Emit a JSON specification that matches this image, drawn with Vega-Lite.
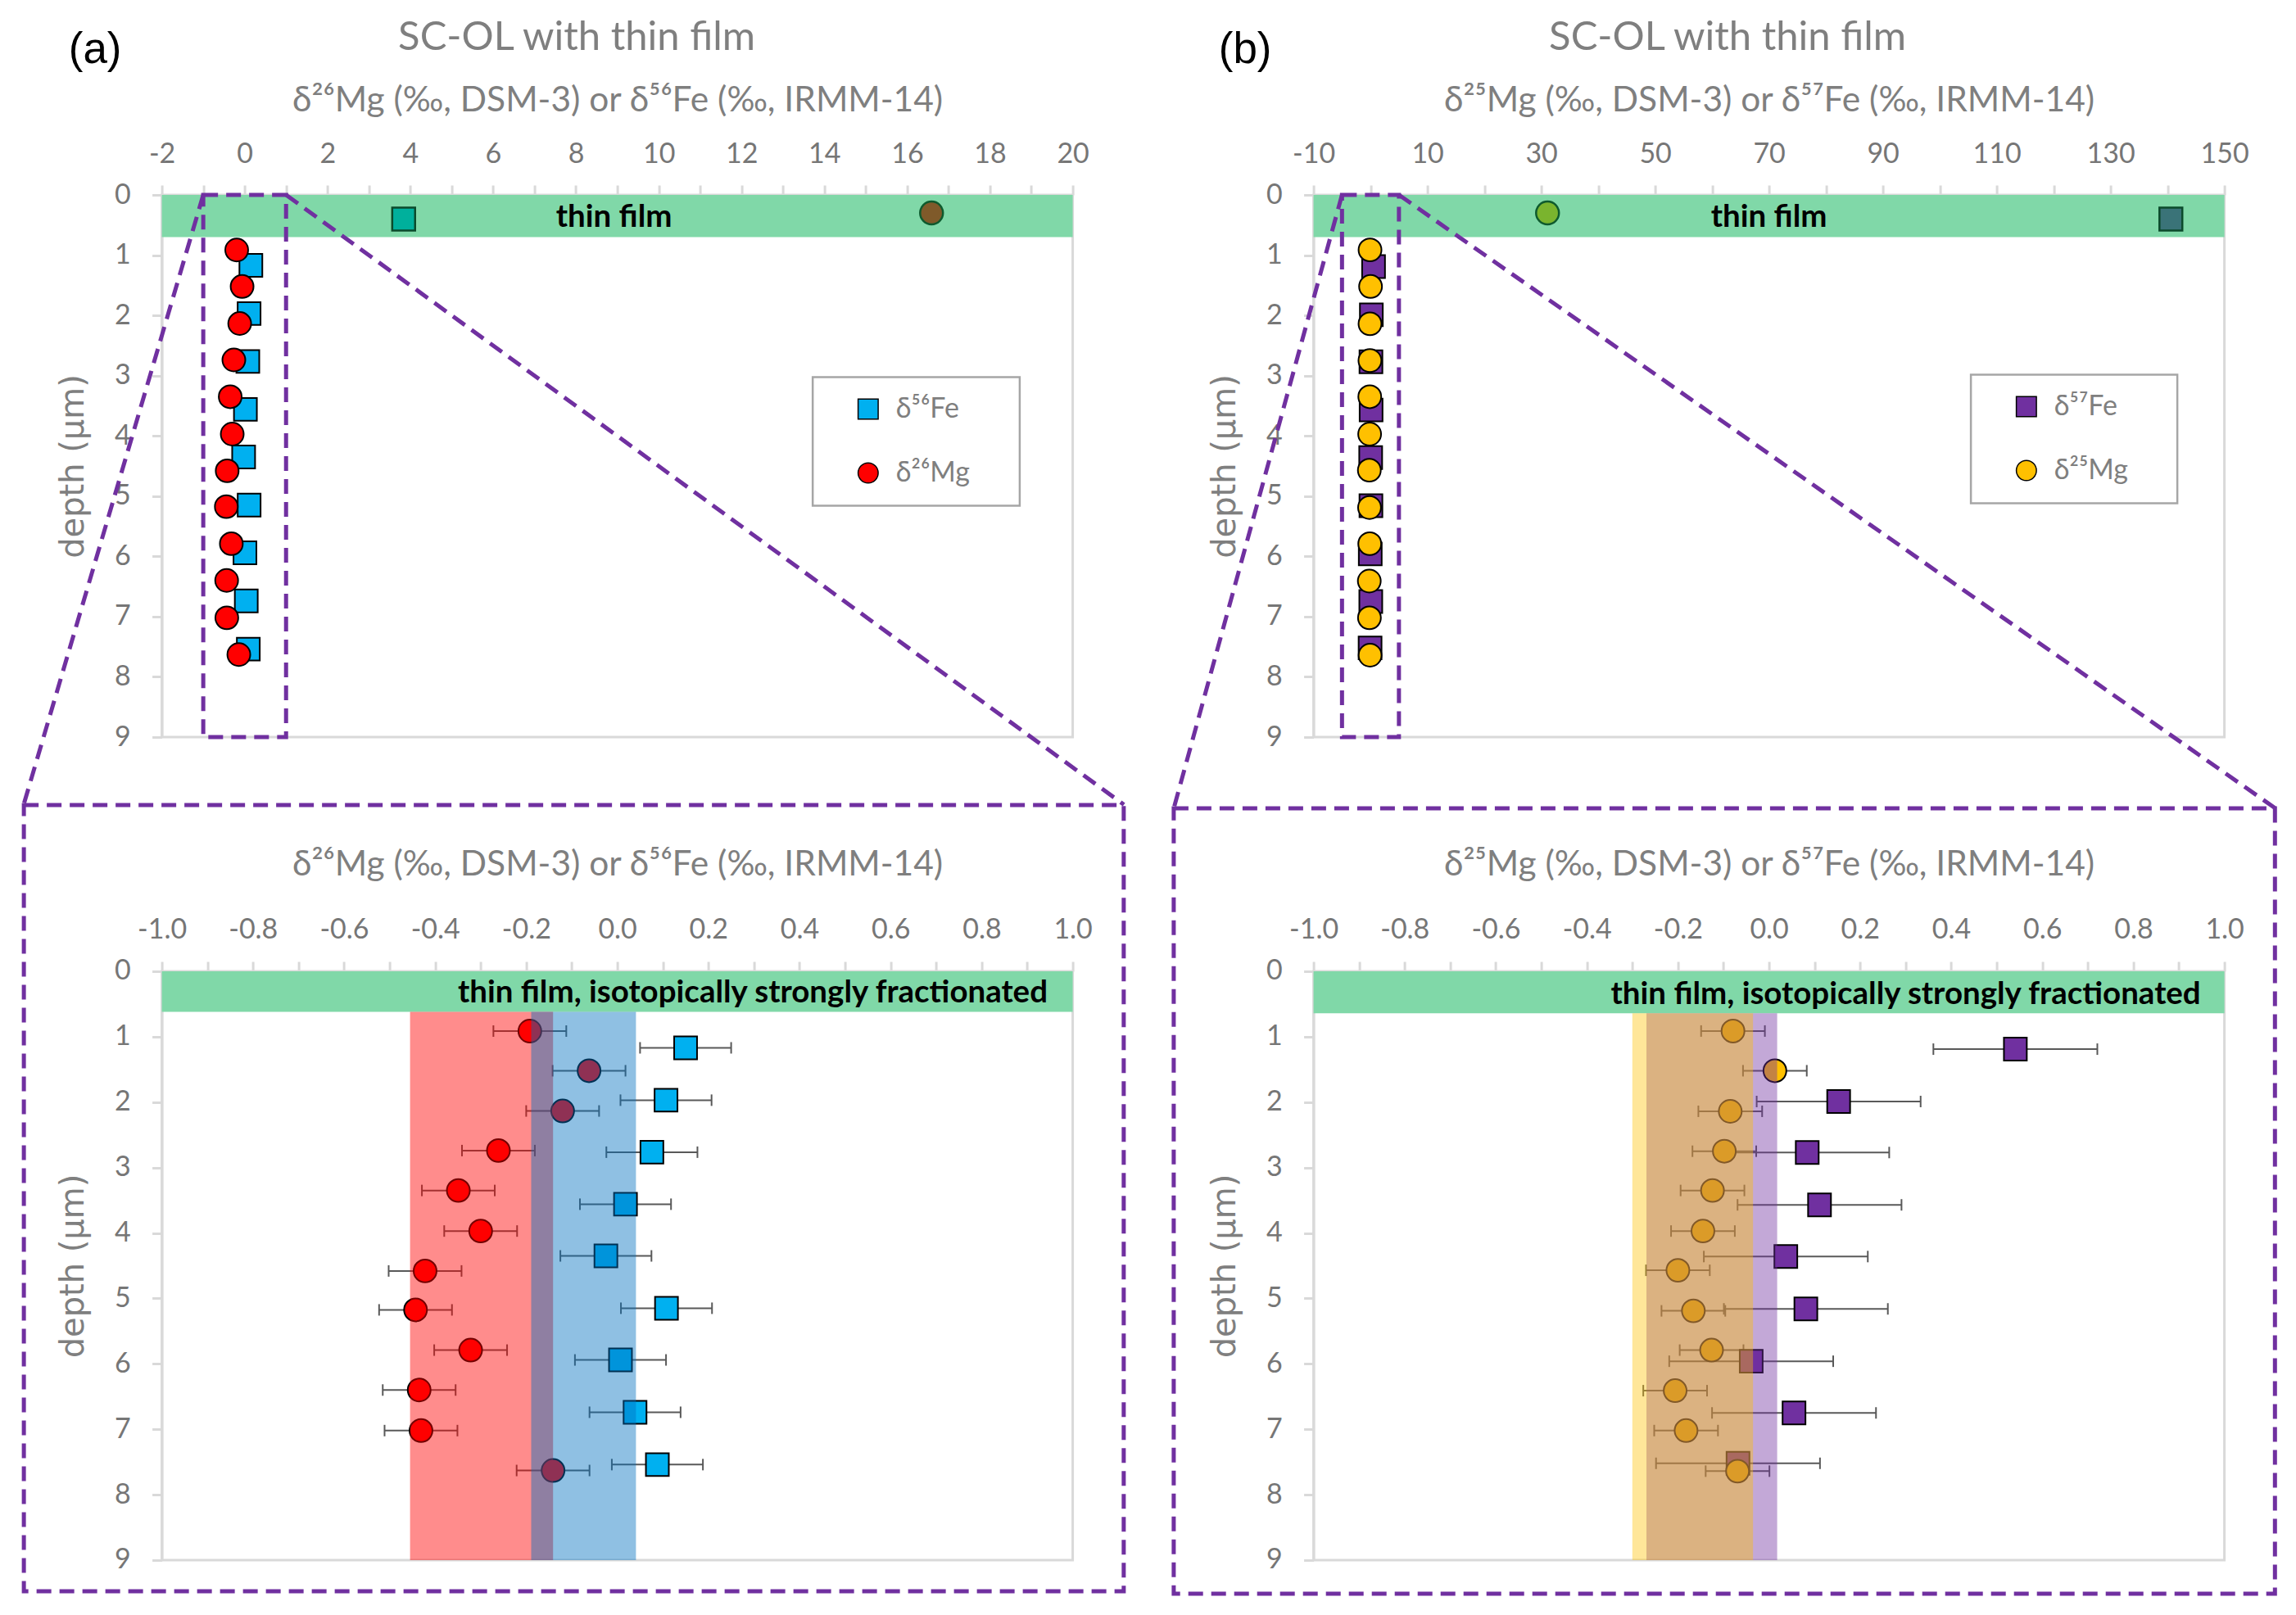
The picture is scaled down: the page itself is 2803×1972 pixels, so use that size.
{
"$schema":"https://vega.github.io/schema/vega-lite/v6.json",
"background":"white",
"padding":{"left":24.6,"top":20,"right":10,"bottom":10},
"columns":2,
"spacing":{"row":286,"column":294},
"bounds":"flush",
"resolve":{"scale":{"fill":"independent","shape":"independent"},"legend":{"fill":"independent","shape":"independent"}},
"datasets":{
"a":[
{"series":"δ⁵⁶Fe","depth":1.17,"v":0.150,"lo":0.050,"hi":0.250},
{"series":"δ⁵⁶Fe","depth":1.97,"v":0.107,"lo":0.007,"hi":0.207},
{"series":"δ⁵⁶Fe","depth":2.765,"v":0.076,"lo":-0.024,"hi":0.176},
{"series":"δ⁵⁶Fe","depth":3.56,"v":0.018,"lo":-0.082,"hi":0.118},
{"series":"δ⁵⁶Fe","depth":4.35,"v":-0.025,"lo":-0.125,"hi":0.075},
{"series":"δ⁵⁶Fe","depth":5.15,"v":0.108,"lo":0.008,"hi":0.208},
{"series":"δ⁵⁶Fe","depth":5.94,"v":0.007,"lo":-0.093,"hi":0.107},
{"series":"δ⁵⁶Fe","depth":6.74,"v":0.039,"lo":-0.061,"hi":0.139},
{"series":"δ⁵⁶Fe","depth":7.54,"v":0.088,"lo":-0.012,"hi":0.188},
{"series":"δ²⁶Mg","depth":0.914,"v":-0.192,"lo":-0.272,"hi":-0.112},
{"series":"δ²⁶Mg","depth":1.52,"v":-0.062,"lo":-0.142,"hi":0.018},
{"series":"δ²⁶Mg","depth":2.135,"v":-0.120,"lo":-0.200,"hi":-0.040},
{"series":"δ²⁶Mg","depth":2.74,"v":-0.261,"lo":-0.341,"hi":-0.181},
{"series":"δ²⁶Mg","depth":3.35,"v":-0.349,"lo":-0.429,"hi":-0.269},
{"series":"δ²⁶Mg","depth":3.97,"v":-0.300,"lo":-0.380,"hi":-0.220},
{"series":"δ²⁶Mg","depth":4.58,"v":-0.422,"lo":-0.502,"hi":-0.342},
{"series":"δ²⁶Mg","depth":5.175,"v":-0.443,"lo":-0.523,"hi":-0.363},
{"series":"δ²⁶Mg","depth":5.79,"v":-0.322,"lo":-0.402,"hi":-0.242},
{"series":"δ²⁶Mg","depth":6.40,"v":-0.435,"lo":-0.515,"hi":-0.355},
{"series":"δ²⁶Mg","depth":7.02,"v":-0.431,"lo":-0.511,"hi":-0.351},
{"series":"δ²⁶Mg","depth":7.63,"v":-0.141,"lo":-0.221,"hi":-0.061}
],
"b":[
{"series":"δ⁵⁷Fe","depth":1.19,"v":0.541,"lo":0.361,"hi":0.721},
{"series":"δ⁵⁷Fe","depth":1.99,"v":0.153,"lo":-0.027,"hi":0.333},
{"series":"δ⁵⁷Fe","depth":2.77,"v":0.084,"lo":-0.096,"hi":0.264},
{"series":"δ⁵⁷Fe","depth":3.57,"v":0.111,"lo":-0.069,"hi":0.291},
{"series":"δ⁵⁷Fe","depth":4.36,"v":0.037,"lo":-0.143,"hi":0.217},
{"series":"δ⁵⁷Fe","depth":5.16,"v":0.081,"lo":-0.099,"hi":0.261},
{"series":"δ⁵⁷Fe","depth":5.96,"v":-0.039,"lo":-0.219,"hi":0.141},
{"series":"δ⁵⁷Fe","depth":6.75,"v":0.055,"lo":-0.125,"hi":0.235},
{"series":"δ⁵⁷Fe","depth":7.52,"v":-0.068,"lo":-0.248,"hi":0.112},
{"series":"δ²⁵Mg","depth":0.913,"v":-0.079,"lo":-0.149,"hi":-0.009},
{"series":"δ²⁵Mg","depth":1.52,"v":0.013,"lo":-0.057,"hi":0.083},
{"series":"δ²⁵Mg","depth":2.14,"v":-0.085,"lo":-0.155,"hi":-0.015},
{"series":"δ²⁵Mg","depth":2.75,"v":-0.098,"lo":-0.168,"hi":-0.028},
{"series":"δ²⁵Mg","depth":3.35,"v":-0.124,"lo":-0.194,"hi":-0.054},
{"series":"δ²⁵Mg","depth":3.97,"v":-0.145,"lo":-0.215,"hi":-0.075},
{"series":"δ²⁵Mg","depth":4.57,"v":-0.200,"lo":-0.270,"hi":-0.130},
{"series":"δ²⁵Mg","depth":5.19,"v":-0.166,"lo":-0.236,"hi":-0.096},
{"series":"δ²⁵Mg","depth":5.79,"v":-0.126,"lo":-0.196,"hi":-0.056},
{"series":"δ²⁵Mg","depth":6.41,"v":-0.206,"lo":-0.276,"hi":-0.136},
{"series":"δ²⁵Mg","depth":7.02,"v":-0.182,"lo":-0.252,"hi":-0.112},
{"series":"δ²⁵Mg","depth":7.64,"v":-0.069,"lo":-0.139,"hi":0.001}
]
},
"concat":[
{
"width":1112,"height":662,
"layer":[
{"data":{"values":[{}]},"mark":{"type":"rect","color":"#80D8A8"},
 "encoding":{"x":{"datum":-2,"type":"quantitative","axis":{"title":"δ²⁶Mg (‰, DSM-3) or δ⁵⁶Fe (‰, IRMM-14)"}},"x2":{"datum":20},"y":{"datum":0,"type":"quantitative","axis":{"title":"depth (µm)"}},"y2":{"datum":0.7}}},
{"data":{"values":[{}]},"mark":{"type":"rect","fill":"white","stroke":"#A6A6A6","strokeWidth":2.5},
 "encoding":{"x":{"datum":13.72,"type":"quantitative","axis":{"title":"δ²⁶Mg (‰, DSM-3) or δ⁵⁶Fe (‰, IRMM-14)"}},"x2":{"datum":18.72},"y":{"datum":3.025,"type":"quantitative","axis":{"title":"depth (µm)"}},"y2":{"datum":5.159}}},
{"data":{"name":"a"},"mark":{"type":"point","filled":true,"size":780,"stroke":"black","strokeWidth":2,"opacity":1},
 "encoding":{
  "x":{"field":"v","type":"quantitative","scale":{"domain":[-2,20],"nice":false,"zero":false},"axis":{"orient":"top","title":"δ²⁶Mg (‰, DSM-3) or δ⁵⁶Fe (‰, IRMM-14)","titlePadding":27,"values":[-2,-1,0,1,2,3,4,5,6,7,8,9,10,11,12,13,14,15,16,17,18,19,20],"labelExpr":"datum.value % 2 === 0 ? replace(format(datum.value, 'd'), '\u2212', '-') : ''"}},
  "y":{"field":"depth","type":"quantitative","scale":{"domain":[0,9],"reverse":true,"nice":false,"zero":false},"axis":{"title":"depth (µm)","format":"d","values":[0,1,2,3,4,5,6,7,8,9]}},
  "fill":{"field":"series","type":"nominal","scale":{"domain":["δ⁵⁶Fe","δ²⁶Mg"],"range":["#00B0F0","#FF0000"]},"legend":{"orient":"none","legendX":794.5,"legendY":222.5,"title":null}},
  "shape":{"field":"series","type":"nominal","scale":{"domain":["δ⁵⁶Fe","δ²⁶Mg"],"range":["square","circle"]},"legend":{"orient":"none","legendX":794.5,"legendY":222.5,"title":null}}}},
{"data":{"values":[{"v":3.84,"depth":0.40}]},"mark":{"type":"point","shape":"square","filled":true,"fill":"#00B09C","stroke":"#0B4A2B","strokeWidth":2.5,"size":780,"opacity":1},
 "encoding":{"x":{"field":"v","type":"quantitative"},"y":{"field":"depth","type":"quantitative"}}},
{"data":{"values":[{"v":16.59,"depth":0.30}]},"mark":{"type":"point","shape":"circle","filled":true,"fill":"#7F5A2A","stroke":"#0E5A2E","strokeWidth":2.5,"size":780,"opacity":1},
 "encoding":{"x":{"field":"v","type":"quantitative"},"y":{"field":"depth","type":"quantitative"}}},
{"data":{"values":[{}]},"mark":{"type":"text","text":"thin film","font":"Lato","fontWeight":"bold","fontSize":38.5,"color":"#000000","align":"center","baseline":"middle"},
 "encoding":{"x":{"datum":8.92,"type":"quantitative","axis":{"title":"δ²⁶Mg (‰, DSM-3) or δ⁵⁶Fe (‰, IRMM-14)"}},"y":{"datum":0.37,"type":"quantitative","axis":{"title":"depth (µm)"}}}},
{"data":{"values":[{}]},"mark":{"type":"text","text":"SC-OL with thin film","font":"Lato","fontSize":49,"color":"#7F7F7F","align":"center","baseline":"middle","clip":false},
 "encoding":{"x":{"datum":8.02,"type":"quantitative","axis":{"title":"δ²⁶Mg (‰, DSM-3) or δ⁵⁶Fe (‰, IRMM-14)"}},"y":{"datum":-2.617,"type":"quantitative","axis":{"title":"depth (µm)"}}}},
{"data":{"values":[{}]},"mark":{"type":"text","text":"(a)","font":"Liberation Sans","fontSize":53,"color":"#000000","align":"center","baseline":"middle","clip":false},
 "encoding":{"x":{"datum":-3.612,"type":"quantitative","axis":{"title":"δ²⁶Mg (‰, DSM-3) or δ⁵⁶Fe (‰, IRMM-14)"}},"y":{"datum":-2.4,"type":"quantitative","axis":{"title":"depth (µm)"}}}},
{"data":{"values":[{}]},"mark":{"type":"rect","fillOpacity":0,"stroke":"#7030A0","strokeWidth":5,"strokeDash":[18,10],"clip":false},
 "encoding":{"x":{"datum":-1,"type":"quantitative","axis":{"title":"δ²⁶Mg (‰, DSM-3) or δ⁵⁶Fe (‰, IRMM-14)"}},"x2":{"datum":1},"y":{"datum":0,"type":"quantitative","axis":{"title":"depth (µm)"}},"y2":{"datum":9}}},
{"data":{"values":[{"x0":-1,"y0":0,"x1":-5.338,"y1":10.122},{"x0":1,"y0":0,"x1":21.237,"y1":10.122}]},"mark":{"type":"rule","color":"#7030A0","strokeWidth":5,"strokeDash":[18,10],"clip":false},
 "encoding":{"x":{"field":"x0","type":"quantitative"},"x2":{"field":"x1"},"y":{"field":"y0","type":"quantitative"},"y2":{"field":"y1"}}}
]
},
{
"width":1112,"height":662,
"layer":[
{"data":{"values":[{}]},"mark":{"type":"rect","color":"#80D8A8"},
 "encoding":{"x":{"datum":-10,"type":"quantitative","axis":{"title":"δ²⁵Mg (‰, DSM-3) or δ⁵⁷Fe (‰, IRMM-14)"}},"x2":{"datum":150},"y":{"datum":0,"type":"quantitative","axis":{"title":"depth (µm)"}},"y2":{"datum":0.7}}},
{"data":{"values":[{}]},"mark":{"type":"rect","fill":"white","stroke":"#A6A6A6","strokeWidth":2.5},
 "encoding":{"x":{"datum":105.47,"type":"quantitative","axis":{"title":"δ²⁵Mg (‰, DSM-3) or δ⁵⁷Fe (‰, IRMM-14)"}},"x2":{"datum":141.73},"y":{"datum":2.984,"type":"quantitative","axis":{"title":"depth (µm)"}},"y2":{"datum":5.118}}},
{"data":{"name":"b"},"mark":{"type":"point","filled":true,"size":780,"stroke":"black","strokeWidth":2,"opacity":1},
 "encoding":{
  "x":{"field":"v","type":"quantitative","scale":{"domain":[-10,150],"nice":false,"zero":false},"axis":{"orient":"top","title":"δ²⁵Mg (‰, DSM-3) or δ⁵⁷Fe (‰, IRMM-14)","titlePadding":27,"values":[-10,0,10,20,30,40,50,60,70,80,90,100,110,120,130,140,150],"labelExpr":"(datum.value + 10) % 20 === 0 ? replace(format(datum.value, 'd'), '\u2212', '-') : ''"}},
  "y":{"field":"depth","type":"quantitative","scale":{"domain":[0,9],"reverse":true,"nice":false,"zero":false},"axis":{"title":"depth (µm)","format":"d","values":[0,1,2,3,4,5,6,7,8,9]}},
  "fill":{"field":"series","type":"nominal","scale":{"domain":["δ⁵⁷Fe","δ²⁵Mg"],"range":["#7030A0","#FFC000"]},"legend":{"orient":"none","legendX":802.5,"legendY":219.5,"title":null}},
  "shape":{"field":"series","type":"nominal","scale":{"domain":["δ⁵⁷Fe","δ²⁵Mg"],"range":["square","circle"]},"legend":{"orient":"none","legendX":802.5,"legendY":219.5,"title":null}}}},
{"data":{"values":[{"v":31.1,"depth":0.30}]},"mark":{"type":"point","shape":"circle","filled":true,"fill":"#7AB42E","stroke":"#0E5A2E","strokeWidth":2.5,"size":780,"opacity":1},
 "encoding":{"x":{"field":"v","type":"quantitative"},"y":{"field":"depth","type":"quantitative"}}},
{"data":{"values":[{"v":140.6,"depth":0.40}]},"mark":{"type":"point","shape":"square","filled":true,"fill":"#3A7378","stroke":"#0B4A2B","strokeWidth":2.5,"size":780,"opacity":1},
 "encoding":{"x":{"field":"v","type":"quantitative"},"y":{"field":"depth","type":"quantitative"}}},
{"data":{"values":[{}]},"mark":{"type":"text","text":"thin film","font":"Lato","fontWeight":"bold","fontSize":38.5,"color":"#000000","align":"center","baseline":"middle"},
 "encoding":{"x":{"datum":70,"type":"quantitative","axis":{"title":"δ²⁵Mg (‰, DSM-3) or δ⁵⁷Fe (‰, IRMM-14)"}},"y":{"datum":0.37,"type":"quantitative","axis":{"title":"depth (µm)"}}}},
{"data":{"values":[{}]},"mark":{"type":"text","text":"SC-OL with thin film","font":"Lato","fontSize":49,"color":"#7F7F7F","align":"center","baseline":"middle","clip":false},
 "encoding":{"x":{"datum":62.73,"type":"quantitative","axis":{"title":"δ²⁵Mg (‰, DSM-3) or δ⁵⁷Fe (‰, IRMM-14)"}},"y":{"datum":-2.617,"type":"quantitative","axis":{"title":"depth (µm)"}}}},
{"data":{"values":[{}]},"mark":{"type":"text","text":"(b)","font":"Liberation Sans","fontSize":53,"color":"#000000","align":"center","baseline":"middle","clip":false},
 "encoding":{"x":{"datum":-22.01,"type":"quantitative","axis":{"title":"δ²⁵Mg (‰, DSM-3) or δ⁵⁷Fe (‰, IRMM-14)"}},"y":{"datum":-2.4,"type":"quantitative","axis":{"title":"depth (µm)"}}}},
{"data":{"values":[{}]},"mark":{"type":"rect","fillOpacity":0,"stroke":"#7030A0","strokeWidth":5,"strokeDash":[18,10],"clip":false},
 "encoding":{"x":{"datum":-5,"type":"quantitative","axis":{"title":"δ²⁵Mg (‰, DSM-3) or δ⁵⁷Fe (‰, IRMM-14)"}},"x2":{"datum":5},"y":{"datum":0,"type":"quantitative","axis":{"title":"depth (µm)"}},"y2":{"datum":9}}},
{"data":{"values":[{"x0":-5,"y0":0,"x1":-34.53,"y1":10.176},{"x0":5,"y0":0,"x1":158.85,"y1":10.176}]},"mark":{"type":"rule","color":"#7030A0","strokeWidth":5,"strokeDash":[18,10],"clip":false},
 "encoding":{"x":{"field":"x0","type":"quantitative"},"x2":{"field":"x1"},"y":{"field":"y0","type":"quantitative"},"y2":{"field":"y1"}}}
]
},
{
"width":1112,"height":719,
"layer":[
{"data":{"values":[{}]},"mark":{"type":"rect","color":"#80D8A8"},
 "encoding":{"x":{"datum":-1,"type":"quantitative","axis":{"title":"δ²⁶Mg (‰, DSM-3) or δ⁵⁶Fe (‰, IRMM-14)"}},"x2":{"datum":1},"y":{"datum":0,"type":"quantitative","axis":{"title":"depth (µm)"}},"y2":{"datum":0.62}}},
{"data":{"values":[{}]},"mark":{"type":"text","text":"thin film, isotopically strongly fractionated","font":"Lato","fontWeight":"bold","fontSize":38.5,"color":"#000000","align":"right","baseline":"middle"},
 "encoding":{"x":{"datum":0.945,"type":"quantitative","axis":{"title":"δ²⁶Mg (‰, DSM-3) or δ⁵⁶Fe (‰, IRMM-14)"}},"y":{"datum":0.33,"type":"quantitative","axis":{"title":"depth (µm)"}}}},
{"data":{"name":"a"},"transform":[{"filter":{"field":"series","equal":"δ⁵⁶Fe"}}],"mark":{"type":"rule","color":"#595959","strokeWidth":2},
 "encoding":{"x":{"field":"lo","type":"quantitative"},"x2":{"field":"hi"},"y":{"field":"depth","type":"quantitative"}}},
{"data":{"name":"a"},"transform":[{"filter":{"field":"series","equal":"δ⁵⁶Fe"}}],"mark":{"type":"tick","orient":"vertical","color":"#595959","size":14,"thickness":2,"opacity":1},
 "encoding":{"x":{"field":"lo","type":"quantitative"},"y":{"field":"depth","type":"quantitative"}}},
{"data":{"name":"a"},"transform":[{"filter":{"field":"series","equal":"δ⁵⁶Fe"}}],"mark":{"type":"tick","orient":"vertical","color":"#595959","size":14,"thickness":2,"opacity":1},
 "encoding":{"x":{"field":"hi","type":"quantitative"},"y":{"field":"depth","type":"quantitative"}}},
{"data":{"name":"a"},"transform":[{"filter":{"field":"series","equal":"δ²⁶Mg"}}],"mark":{"type":"rule","color":"#595959","strokeWidth":2},
 "encoding":{"x":{"field":"lo","type":"quantitative"},"x2":{"field":"hi"},"y":{"field":"depth","type":"quantitative"}}},
{"data":{"name":"a"},"transform":[{"filter":{"field":"series","equal":"δ²⁶Mg"}}],"mark":{"type":"tick","orient":"vertical","color":"#595959","size":14,"thickness":2,"opacity":1},
 "encoding":{"x":{"field":"lo","type":"quantitative"},"y":{"field":"depth","type":"quantitative"}}},
{"data":{"name":"a"},"transform":[{"filter":{"field":"series","equal":"δ²⁶Mg"}}],"mark":{"type":"tick","orient":"vertical","color":"#595959","size":14,"thickness":2,"opacity":1},
 "encoding":{"x":{"field":"hi","type":"quantitative"},"y":{"field":"depth","type":"quantitative"}}},
{"data":{"name":"a"},"transform":[{"filter":{"field":"series","equal":"δ⁵⁶Fe"}}],"mark":{"type":"point","shape":"square","filled":true,"fill":"#00B0F0","stroke":"black","strokeWidth":2,"size":780,"opacity":1},
 "encoding":{
  "x":{"field":"v","type":"quantitative","scale":{"domain":[-1,1],"nice":false,"zero":false},"axis":{"orient":"top","title":"δ²⁶Mg (‰, DSM-3) or δ⁵⁶Fe (‰, IRMM-14)","titlePadding":41.5,"values":[-1,-0.9,-0.8,-0.7,-0.6,-0.5,-0.4,-0.3,-0.2,-0.1,0,0.1,0.2,0.3,0.4,0.5,0.6,0.7,0.8,0.9,1],"labelExpr":"round(datum.value*10) % 2 === 0 ? replace(format(datum.value, '.1f'), '\u2212', '-') : ''"}},
  "y":{"field":"depth","type":"quantitative","scale":{"domain":[0,9],"reverse":true,"nice":false,"zero":false},"axis":{"title":"depth (µm)","format":"d","values":[0,1,2,3,4,5,6,7,8,9]}}}},
{"data":{"name":"a"},"transform":[{"filter":{"field":"series","equal":"δ²⁶Mg"}}],"mark":{"type":"point","shape":"circle","filled":true,"fill":"#FF0000","stroke":"black","strokeWidth":2,"size":780,"opacity":1},
 "encoding":{"x":{"field":"v","type":"quantitative"},"y":{"field":"depth","type":"quantitative"}}},
{"data":{"values":[{}]},"mark":{"type":"rect","color":"#FF0000","opacity":0.45},
 "encoding":{"x":{"datum":-0.455,"type":"quantitative","axis":{"title":"δ²⁶Mg (‰, DSM-3) or δ⁵⁶Fe (‰, IRMM-14)"}},"x2":{"datum":-0.141},"y":{"datum":0.62,"type":"quantitative","axis":{"title":"depth (µm)"}},"y2":{"datum":9}}},
{"data":{"values":[{}]},"mark":{"type":"rect","color":"#0070C0","opacity":0.44},
 "encoding":{"x":{"datum":-0.189,"type":"quantitative","axis":{"title":"δ²⁶Mg (‰, DSM-3) or δ⁵⁶Fe (‰, IRMM-14)"}},"x2":{"datum":0.041},"y":{"datum":0.62,"type":"quantitative","axis":{"title":"depth (µm)"}},"y2":{"datum":9}}},
{"data":{"values":[{}]},"mark":{"type":"rect","fillOpacity":0,"stroke":"#7030A0","strokeWidth":5,"strokeDash":[18,10],"clip":false},
 "encoding":{"x":{"datum":-1.303,"type":"quantitative","axis":{"title":"δ²⁶Mg (‰, DSM-3) or δ⁵⁶Fe (‰, IRMM-14)"}},"x2":{"datum":1.112},"y":{"datum":-2.541,"type":"quantitative","axis":{"title":"depth (µm)"}},"y2":{"datum":9.476}}}
]
},
{
"width":1112,"height":719,
"layer":[
{"data":{"values":[{}]},"mark":{"type":"rect","color":"#80D8A8"},
 "encoding":{"x":{"datum":-1,"type":"quantitative","axis":{"title":"δ²⁵Mg (‰, DSM-3) or δ⁵⁷Fe (‰, IRMM-14)"}},"x2":{"datum":1},"y":{"datum":0,"type":"quantitative","axis":{"title":"depth (µm)"}},"y2":{"datum":0.64}}},
{"data":{"values":[{}]},"mark":{"type":"text","text":"thin film, isotopically strongly fractionated","font":"Lato","fontWeight":"bold","fontSize":38.5,"color":"#000000","align":"right","baseline":"middle"},
 "encoding":{"x":{"datum":0.948,"type":"quantitative","axis":{"title":"δ²⁵Mg (‰, DSM-3) or δ⁵⁷Fe (‰, IRMM-14)"}},"y":{"datum":0.35,"type":"quantitative","axis":{"title":"depth (µm)"}}}},
{"data":{"name":"b"},"transform":[{"filter":{"field":"series","equal":"δ⁵⁷Fe"}}],"mark":{"type":"rule","color":"#595959","strokeWidth":2},
 "encoding":{"x":{"field":"lo","type":"quantitative"},"x2":{"field":"hi"},"y":{"field":"depth","type":"quantitative"}}},
{"data":{"name":"b"},"transform":[{"filter":{"field":"series","equal":"δ⁵⁷Fe"}}],"mark":{"type":"tick","orient":"vertical","color":"#595959","size":14,"thickness":2,"opacity":1},
 "encoding":{"x":{"field":"lo","type":"quantitative"},"y":{"field":"depth","type":"quantitative"}}},
{"data":{"name":"b"},"transform":[{"filter":{"field":"series","equal":"δ⁵⁷Fe"}}],"mark":{"type":"tick","orient":"vertical","color":"#595959","size":14,"thickness":2,"opacity":1},
 "encoding":{"x":{"field":"hi","type":"quantitative"},"y":{"field":"depth","type":"quantitative"}}},
{"data":{"name":"b"},"transform":[{"filter":{"field":"series","equal":"δ²⁵Mg"}}],"mark":{"type":"rule","color":"#595959","strokeWidth":2},
 "encoding":{"x":{"field":"lo","type":"quantitative"},"x2":{"field":"hi"},"y":{"field":"depth","type":"quantitative"}}},
{"data":{"name":"b"},"transform":[{"filter":{"field":"series","equal":"δ²⁵Mg"}}],"mark":{"type":"tick","orient":"vertical","color":"#595959","size":14,"thickness":2,"opacity":1},
 "encoding":{"x":{"field":"lo","type":"quantitative"},"y":{"field":"depth","type":"quantitative"}}},
{"data":{"name":"b"},"transform":[{"filter":{"field":"series","equal":"δ²⁵Mg"}}],"mark":{"type":"tick","orient":"vertical","color":"#595959","size":14,"thickness":2,"opacity":1},
 "encoding":{"x":{"field":"hi","type":"quantitative"},"y":{"field":"depth","type":"quantitative"}}},
{"data":{"name":"b"},"transform":[{"filter":{"field":"series","equal":"δ⁵⁷Fe"}}],"mark":{"type":"point","shape":"square","filled":true,"fill":"#7030A0","stroke":"black","strokeWidth":2,"size":780,"opacity":1},
 "encoding":{
  "x":{"field":"v","type":"quantitative","scale":{"domain":[-1,1],"nice":false,"zero":false},"axis":{"orient":"top","title":"δ²⁵Mg (‰, DSM-3) or δ⁵⁷Fe (‰, IRMM-14)","titlePadding":41.5,"values":[-1,-0.9,-0.8,-0.7,-0.6,-0.5,-0.4,-0.3,-0.2,-0.1,0,0.1,0.2,0.3,0.4,0.5,0.6,0.7,0.8,0.9,1],"labelExpr":"round(datum.value*10) % 2 === 0 ? replace(format(datum.value, '.1f'), '\u2212', '-') : ''"}},
  "y":{"field":"depth","type":"quantitative","scale":{"domain":[0,9],"reverse":true,"nice":false,"zero":false},"axis":{"title":"depth (µm)","format":"d","values":[0,1,2,3,4,5,6,7,8,9]}}}},
{"data":{"name":"b"},"transform":[{"filter":{"field":"series","equal":"δ²⁵Mg"}}],"mark":{"type":"point","shape":"circle","filled":true,"fill":"#FFC000","stroke":"black","strokeWidth":2,"size":780,"opacity":1},
 "encoding":{"x":{"field":"v","type":"quantitative"},"y":{"field":"depth","type":"quantitative"}}},
{"data":{"values":[{}]},"mark":{"type":"rect","color":"#7030A0","opacity":0.42},
 "encoding":{"x":{"datum":-0.269,"type":"quantitative","axis":{"title":"δ²⁵Mg (‰, DSM-3) or δ⁵⁷Fe (‰, IRMM-14)"}},"x2":{"datum":0.018},"y":{"datum":0.64,"type":"quantitative","axis":{"title":"depth (µm)"}},"y2":{"datum":9}}},
{"data":{"values":[{}]},"mark":{"type":"rect","color":"#FFC000","opacity":0.40},
 "encoding":{"x":{"datum":-0.300,"type":"quantitative","axis":{"title":"δ²⁵Mg (‰, DSM-3) or δ⁵⁷Fe (‰, IRMM-14)"}},"x2":{"datum":-0.035},"y":{"datum":0.64,"type":"quantitative","axis":{"title":"depth (µm)"}},"y2":{"datum":9}}},
{"data":{"values":[{}]},"mark":{"type":"rect","fillOpacity":0,"stroke":"#7030A0","strokeWidth":5,"strokeDash":[18,10],"clip":false},
 "encoding":{"x":{"datum":-1.307,"type":"quantitative","axis":{"title":"δ²⁵Mg (‰, DSM-3) or δ⁵⁷Fe (‰, IRMM-14)"}},"x2":{"datum":1.111},"y":{"datum":-2.491,"type":"quantitative","axis":{"title":"depth (µm)"}},"y2":{"datum":9.513}}}
]
}
],
"config":{
 "font":"Lato",
 "view":{"stroke":"#D9D9D9","strokeWidth":3},
 "axis":{"grid":false,"domainColor":"#D9D9D9","domainWidth":3,"tickColor":"#D9D9D9","tickWidth":3,"tickSize":12,"labelFont":"Lato","labelFontSize":34,"labelColor":"#767676","titleFont":"Lato","titleFontWeight":"normal","titleColor":"#7F7F7F","labelOverlap":false,"labelFlush":false,"labelBound":false},
 "axisX":{"labelPadding":21,"titleFontSize":42.5,"titlePadding":27},
 "axisY":{"labelPadding":26.5,"titleFont":"DejaVu Sans","titleFontSize":40,"titlePadding":30},
 "legend":{"padding":22,"strokeColor":"transparent","fillColor":"transparent","symbolSize":600,"symbolOffset":28.75,"labelOffset":17,"rowPadding":44,"labelFont":"Lato","labelFontSize":34,"labelColor":"#7F7F7F","labelLimit":400}
}
}
